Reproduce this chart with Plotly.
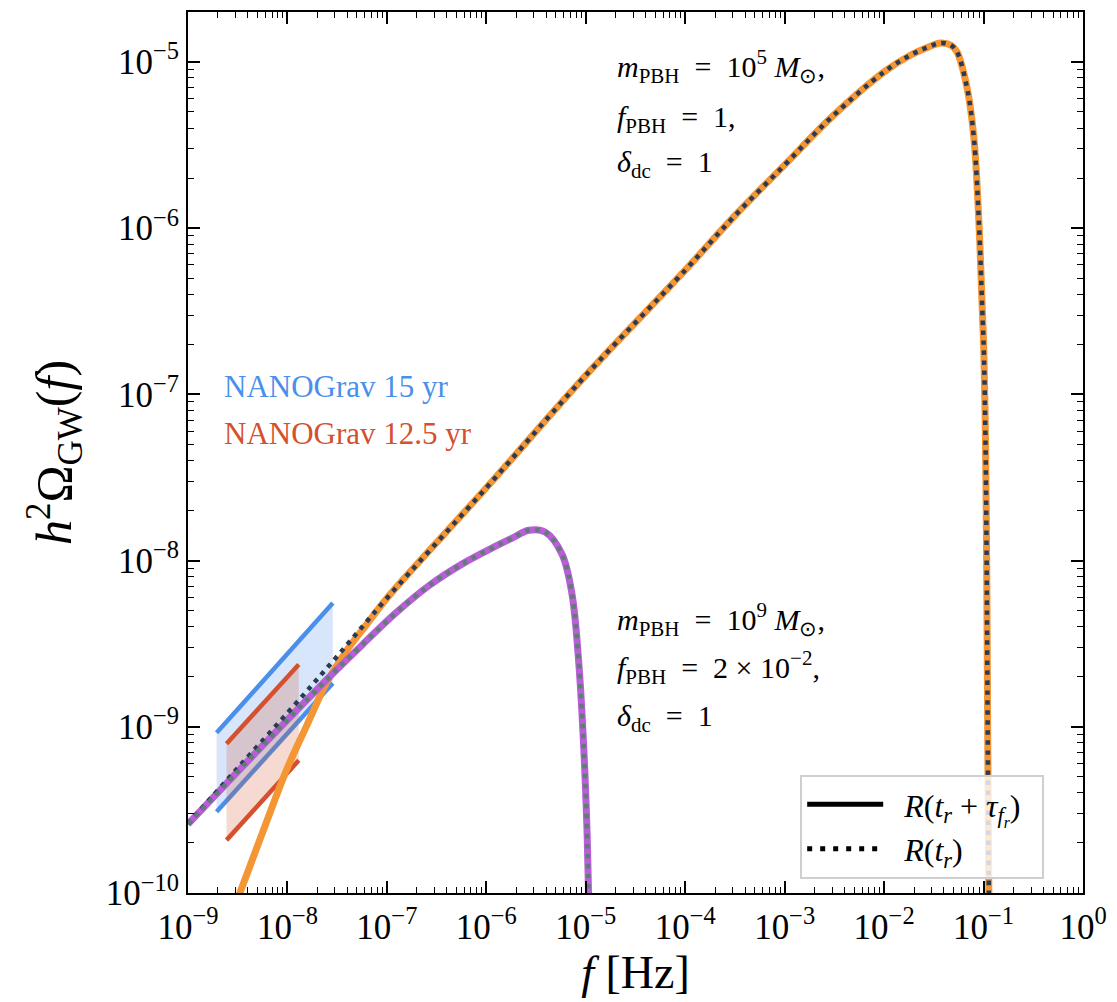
import plotly.graph_objects as go

# ---- Data -------------------------------------------------------------
# m_PBH = 1e5 Msun, R(t_r) : full spectrum
f_m5_tr = [1e-9, 3e-9, 1e-8, 3e-8, 1e-7, 1e-6, 1e-5, 1e-4, 3e-4, 1e-3, 3e-3,
           1e-2, 1.85e-2, 2.8e-2, 3.7e-2, 4.7e-2, 5.4e-2, 6.85e-2, 8.0e-2,
           8.97e-2, 9.7e-2, 0.1007, 0.1045, 0.1069, 0.1086, 0.1104, 0.1130, 0.1138]
omega_m5_tr = [2.6e-10, 5.45e-10, 1.21e-9, 2.56e-9, 5.94e-9, 2.74e-8, 1.3e-7,
               5.58e-7, 1.15e-6, 2.4e-6, 4.68e-6, 8.7e-6, 1.1e-5, 1.23e-5,
               1.3e-5, 1.26e-5, 1.15e-5, 6.9e-6, 3.47e-6, 1.1e-6, 3.3e-7,
               1.8e-7, 5.4e-8, 1.41e-8, 3.7e-9, 7.1e-10, 1.0e-10, 5e-11]

# m_PBH = 1e5 Msun, R(t_r + tau) : suppressed at low frequency
f_m5_tau = [3.0e-9, 5.6e-9, 9.75e-9, 1.58e-8, 2.45e-8, 3.9e-8, 6.3e-8] + f_m5_tr[4:]
omega_m5_tau = [8.5e-11, 2.3e-10, 5.47e-10, 1.03e-9, 1.82e-9, 2.85e-9, 4.15e-9] + omega_m5_tr[4:]

# m_PBH = 1e9 Msun, f_PBH = 2e-2 (both curves coincide)
f_m9 = [1e-9, 3.16e-9, 1e-8, 2.65e-8, 5.71e-8, 1.23e-7, 2.66e-7, 5.74e-7,
        1.24e-6, 1.82e-6, 2.67e-6, 3.93e-6, 5.77e-6, 7.26e-6, 8.47e-6,
        9.5e-6, 1.026e-5, 1.066e-5, 1.084e-5]
omega_m9 = [2.6e-10, 5.37e-10, 1.10e-9, 2.0e-9, 3.13e-9, 4.84e-9, 7.08e-9,
            9.55e-9, 1.22e-8, 1.365e-8, 1.52e-8, 1.48e-8, 1.09e-8, 6.3e-9,
            2.5e-9, 7.9e-10, 2.5e-10, 1.0e-10, 6.3e-11]

# NANOGrav bands (edges)
nano15_f = [1.94e-9, 2.86e-8]
nano15_upper = [9.2e-10, 5.56e-9]
nano15_lower = [3.08e-10, 1.83e-9]
nano12_f = [2.44e-9, 1.30e-8]
nano12_upper = [7.9e-10, 2.37e-9]
nano12_lower = [2.08e-10, 6.28e-10]

x_tickvals = [1e-9, 1e-8, 1e-7, 1e-6, 1e-5, 1e-4, 1e-3, 1e-2, 1e-1, 1e0]
x_ticktext = ["10<sup>−9</sup>", "10<sup>−8</sup>", "10<sup>−7</sup>", "10<sup>−6</sup>",
              "10<sup>−5</sup>", "10<sup>−4</sup>", "10<sup>−3</sup>", "10<sup>−2</sup>",
              "10<sup>−1</sup>", "10<sup>0</sup>"]
y_tickvals = [1e-10, 1e-9, 1e-8, 1e-7, 1e-6, 1e-5]
y_ticktext = ["10<sup>−10</sup>", "10<sup>−9</sup>", "10<sup>−8</sup>",
              "10<sup>−7</sup>", "10<sup>−6</sup>", "10<sup>−5</sup>"]

# ---- Styles -----------------------------------------------------------
FONT = "Liberation Serif"
ORANGE = "#f39633"
NAVY = "#2b3a55"
PURPLE = "#b85ed8"
GREYGREEN = "#5f7d72"
BLUE = "#4a8fea"
RED = "#d5502e"
DOTS = "4.5px,5.5px"
SMOOTH = 1.0
EQ = "\u2002=\u2002"
SP = "\u2002"

fig = go.Figure()


def band(fx, lo, hi, line_col, fill_col):
    poly_x = [fx[0], fx[1], fx[1], fx[0], fx[0]]
    poly_y = [hi[0], hi[1], lo[1], lo[0], hi[0]]
    fig.add_trace(go.Scatter(x=poly_x, y=poly_y, mode="lines", fill="toself",
                             fillcolor=fill_col, line=dict(width=0),
                             showlegend=False, hoverinfo="skip"))
    for edge in (hi, lo):
        fig.add_trace(go.Scatter(x=fx, y=edge, mode="lines",
                                 line=dict(color=line_col, width=4.5),
                                 showlegend=False, hoverinfo="skip"))


band(nano15_f, nano15_lower, nano15_upper, BLUE, "rgba(74,143,234,0.22)")
band(nano12_f, nano12_lower, nano12_upper, RED, "rgba(213,80,46,0.22)")

# solid curves, R(t_r + tau)
fig.add_trace(go.Scatter(x=f_m5_tau, y=omega_m5_tau, mode="lines",
                         line=dict(color=ORANGE, width=7, shape="spline", smoothing=SMOOTH),
                         showlegend=False))
fig.add_trace(go.Scatter(x=f_m9, y=omega_m9, mode="lines",
                         line=dict(color=PURPLE, width=7, shape="spline", smoothing=SMOOTH),
                         showlegend=False))
# dotted curves, R(t_r)
fig.add_trace(go.Scatter(x=f_m5_tr, y=omega_m5_tr, mode="lines",
                         line=dict(color=NAVY, width=4.5, dash=DOTS, shape="spline", smoothing=SMOOTH),
                         showlegend=False))
fig.add_trace(go.Scatter(x=f_m9, y=omega_m9, mode="lines",
                         line=dict(color=GREYGREEN, width=4.5, dash=DOTS, shape="spline", smoothing=SMOOTH),
                         showlegend=False))

# legend entries
fig.add_trace(go.Scatter(x=[None], y=[None], mode="lines",
                         line=dict(color="black", width=5),
                         name=SP + "<i>R</i>(<i>t<sub>r</sub></i> + <i>τ</i><sub><i>f<sub>r</sub></i></sub>)" + SP))
fig.add_trace(go.Scatter(x=[None], y=[None], mode="lines",
                         line=dict(color="black", width=5, dash="5px,8px"),
                         name=SP + "<i>R</i>(<i>t<sub>r</sub></i>)"))

ann_font = dict(family=FONT, size=30, color="black")
upper_lines = ["<i>m</i><sub>PBH</sub>" + EQ + "10<sup>5</sup> <i>M</i><sub>⊙</sub>,",
               "<i>f</i><sub>PBH</sub>" + EQ + "1,",
               "<i>δ</i><sub>dc</sub>" + EQ + "1"]
lower_lines = ["<i>m</i><sub>PBH</sub>" + EQ + "10<sup>9</sup> <i>M</i><sub>⊙</sub>,",
               "<i>f</i><sub>PBH</sub>" + EQ + "2 × 10<sup>−2</sup>,",
               "<i>δ</i><sub>dc</sub>" + EQ + "1"]
for txt, yp in zip(upper_lines, [0.938, 0.878, 0.828]):
    fig.add_annotation(text=txt, x=0.477, y=yp, xref="paper", yref="paper",
                       xanchor="left", yanchor="middle", showarrow=False, font=ann_font)
for txt, yp in zip(lower_lines, [0.311, 0.256, 0.199]):
    fig.add_annotation(text=txt, x=0.477, y=yp, xref="paper", yref="paper",
                       xanchor="left", yanchor="middle", showarrow=False, font=ann_font)

fig.add_annotation(text="NANOGrav 15 yr", x=0.038, y=0.575, xref="paper", yref="paper",
                   xanchor="left", yanchor="middle", showarrow=False,
                   font=dict(family=FONT, size=31, color=BLUE))
fig.add_annotation(text="NANOGrav 12.5 yr", x=0.038, y=0.521, xref="paper", yref="paper",
                   xanchor="left", yanchor="middle", showarrow=False,
                   font=dict(family=FONT, size=31, color=RED))

axis_common = dict(
    showline=True, linecolor="black", linewidth=2, mirror="allticks",
    ticks="inside", ticklen=12, tickwidth=1.5, tickcolor="black",
    showgrid=False, zeroline=False,
    tickfont=dict(family=FONT, size=35, color="black"),
    minor=dict(ticks="inside", ticklen=6, tickwidth=1.2, tickcolor="black",
               dtick="D1", showgrid=False),
)

fig.update_xaxes(type="log", range=[-9, 0], tickmode="array",
                 tickvals=x_tickvals, ticktext=x_ticktext,
                 title=dict(text="<i>f</i> [Hz]", font=dict(family=FONT, size=46, color="black"),
                            standoff=6),
                 ticklabelstandoff=2, **axis_common)
fig.update_yaxes(type="log", range=[-10, -4.7], tickmode="array",
                 tickvals=y_tickvals, ticktext=y_ticktext,
                 title=dict(text="<i>h</i><sup>2</sup>Ω<sub>GW</sub>(<i>f</i>)",
                            font=dict(family=FONT, size=50, color="black"), standoff=18),
                 ticklabelstandoff=0, **axis_common)

fig.update_layout(
    width=1117, height=1002,
    margin=dict(l=188, r=31, t=10, b=109),
    paper_bgcolor="white", plot_bgcolor="white",
    legend=dict(x=0.684, y=0.134, xanchor="left", yanchor="top",
                bgcolor="rgba(255,255,255,0.8)", bordercolor="#cfcfcf", borderwidth=2,
                font=dict(family=FONT, size=32, color="black"),
                itemwidth=76, tracegroupgap=2),
)

fig.write_html("out.html")
